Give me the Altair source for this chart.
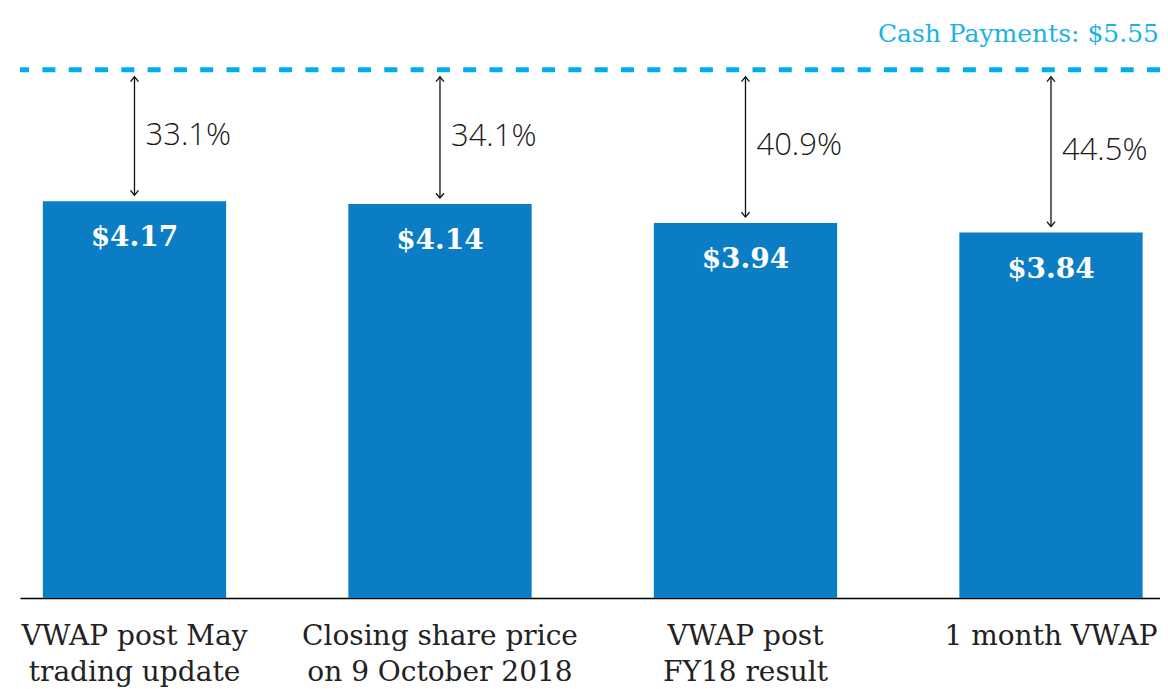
import altair as alt
import pandas as pd

categories = [
    "VWAP post May|trading update",
    "Closing share price|on 9 October 2018",
    "VWAP post|FY18 result",
    "1 month VWAP",
]
prices = [4.17, 4.14, 3.94, 3.84]
price_labels = ["$4.17", "$4.14", "$3.94", "$3.84"]
premium_labels = ["33.1%", "34.1%", "40.9%", "44.5%"]
cash_payment = 5.55
cash_label = "Cash Payments: $5.55"

df = pd.DataFrame({
    "cat": categories,
    "price": prices,
    "plabel": price_labels,
    "prem": premium_labels,
    "cash": [cash_payment] * len(categories),
})
ref = pd.DataFrame({"cash": [cash_payment], "label": [cash_label]})

W, H = 1140, 590
BAR = "#0A7DC4"
CYAN = "#00AEEF"

xenc = alt.X(
    "cat:N",
    sort=categories,
    scale=alt.Scale(paddingInner=0.4, paddingOuter=0.0658, align=0.568),
    axis=alt.Axis(
        title=None,
        labelExpr="split(datum.label, '|')",
        labelAngle=0,
        labelLimit=600,
        ticks=False,
        domainColor="#000000",
        domainWidth=1.5,
        labelFont="DejaVu Serif",
        labelFontSize=28,
        labelColor="#222222",
        labelPadding=24,
        labelLineHeight=36,
        labelBaseline="top",
    ),
)
yscale = alt.Scale(domain=[0, 6.2], nice=False, zero=True)

base = alt.Chart(df)

bars = base.mark_bar(color=BAR).encode(
    x=xenc,
    y=alt.Y("price:Q", scale=yscale, axis=None),
)

bar_text = base.mark_text(
    font="DejaVu Serif", fontWeight="bold", fontSize=28, color="white",
    baseline="middle", dy=37,
).encode(x=alt.X("cat:N", sort=categories), y=alt.Y("price:Q"), text="plabel:N")

shaft = base.mark_rule(color="#111111", strokeWidth=1.3, yOffset=-6, y2Offset=7).encode(
    x=alt.X("cat:N", sort=categories), y=alt.Y("price:Q"), y2="cash:Q"
)

head_up = base.mark_point(
    shape="M-1,1.2L0,0L1,1.2", filled=False, size=64, color="#111111",
    strokeWidth=1.3, opacity=1, yOffset=7,
).encode(x=alt.X("cat:N", sort=categories), y=alt.Y("cash:Q"))

head_down = base.mark_point(
    shape="M-1,-1.2L0,0L1,-1.2", filled=False, size=64, color="#111111",
    strokeWidth=1.3, opacity=1, yOffset=-6,
).encode(x=alt.X("cat:N", sort=categories), y=alt.Y("price:Q"))

prem_text = base.transform_calculate(mid="(datum.price + datum.cash) / 2").mark_text(
    font="Open Sans", fontWeight=300, fontSize=31, color="#1a1a1a",
    align="left", baseline="middle", dx=11,
).encode(x=alt.X("cat:N", sort=categories), y=alt.Y("mid:Q"), text="prem:N")

dash = alt.Chart(ref).mark_rule(color=CYAN, strokeWidth=5, strokeDash=[13, 13.3]).encode(
    y=alt.Y("cash:Q")
)

cash_text = alt.Chart(ref).mark_text(
    font="DejaVu Serif", fontSize=25, color="#1BB1E7", align="right",
    baseline="middle", dy=-36,
).encode(x=alt.value(W - 1), y=alt.Y("cash:Q"), text="label:N")

chart = alt.layer(bars, bar_text, dash, shaft, head_up, head_down, prem_text, cash_text).properties(
    width=W, height=H,
    padding={"left": 12, "top": 0, "right": 0, "bottom": 91},
    autosize=alt.AutoSizeParams(type="none"),
).configure_view(stroke=None)

chart.save("out.html", embed_options={"renderer": "svg", "actions": False})
